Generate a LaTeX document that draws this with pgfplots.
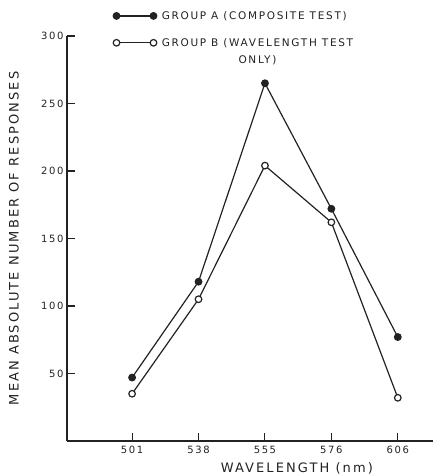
\documentclass[border=0pt]{standalone}
\usepackage{fontspec}
\setmainfont[LetterSpace=16]{DejaVu Sans}
\usepackage{pgfplots}
\pgfplotsset{compat=1.18}
\usetikzlibrary{calc}
\definecolor{ink}{HTML}{222222}
\begin{document}
\begin{tikzpicture}
\begin{axis}[name=ax, scale only axis, width=366pt, height=405pt,
 xmin=-0.98, xmax=4.53, ymin=0, ymax=300,
 axis x line*=bottom, axis y line*=left,
 axis line style={draw=ink, line width=1.1pt},
 xtick={0,...,4}, xticklabels={501,538,555,576,606},
 ytick={50,100,...,300},
 major tick length=8pt,
 major tick style={draw=ink, line width=1.1pt},
 /pgf/number format/assume math mode=true,
 ticklabel style={font=\fontsize{10}{11}\selectfont, text=ink},
 xticklabel style={yshift=-2pt},
 xlabel={WAVELENGTH (nm)}, ylabel={MEAN ABSOLUTE NUMBER OF RESPONSES},
 label style={font=\fontsize{13}{15}\selectfont, text=ink},
 xlabel style={at={(axis description cs:0.628,0)}, anchor=center, yshift=-27pt},
 ylabel style={at={(axis description cs:-0.145,0.5)}, anchor=center},
 legend cell align=left,
 legend style={draw=none, fill=none, at={(axis description cs:0,1)}, anchor=north west, xshift=43pt, yshift=29pt, font=\fontsize{10.5}{12.5}\selectfont, text=ink, row sep=13pt, column sep=3pt},
 legend image code/.code={\draw[#1] plot coordinates {(0pt,0pt) (37pt,0pt)};},
 clip=false]
\pgfplotsinvokeforeach{0,1,2,3,4}{\draw[ink, line width=1.1pt] (axis cs:#1,0) -- ++(0pt,8pt);}
\pgfplotsinvokeforeach{50,100,150,200,250,300}{\draw[ink, line width=1.1pt] (axis cs:-0.98,#1) -- ++(8pt,0pt);}
\addplot[ink, line width=1.2pt, mark=*, mark size=3.3pt, mark options={fill=ink}] coordinates {(0,47)(1,118)(2,265)(3,172)(4,77)};
\addplot[ink, line width=1.2pt, mark=*, mark size=3.3pt, mark options={fill=white}] coordinates {(0,35)(1,105)(2,204)(3,162)(4,32)};
\addlegendentry{GROUP A (COMPOSITE TEST)}
\addlegendentry{\begin{tabular}[t]{@{}c@{}}GROUP B (WAVELENGTH TEST\\[5pt]ONLY)\end{tabular}}
\end{axis}
\pgfresetboundingbox
\path ($(ax.south west)+(-67pt,-35pt)$) rectangle ($(ax.south west)+(374pt,441pt)$);
\end{tikzpicture}
\end{document}
